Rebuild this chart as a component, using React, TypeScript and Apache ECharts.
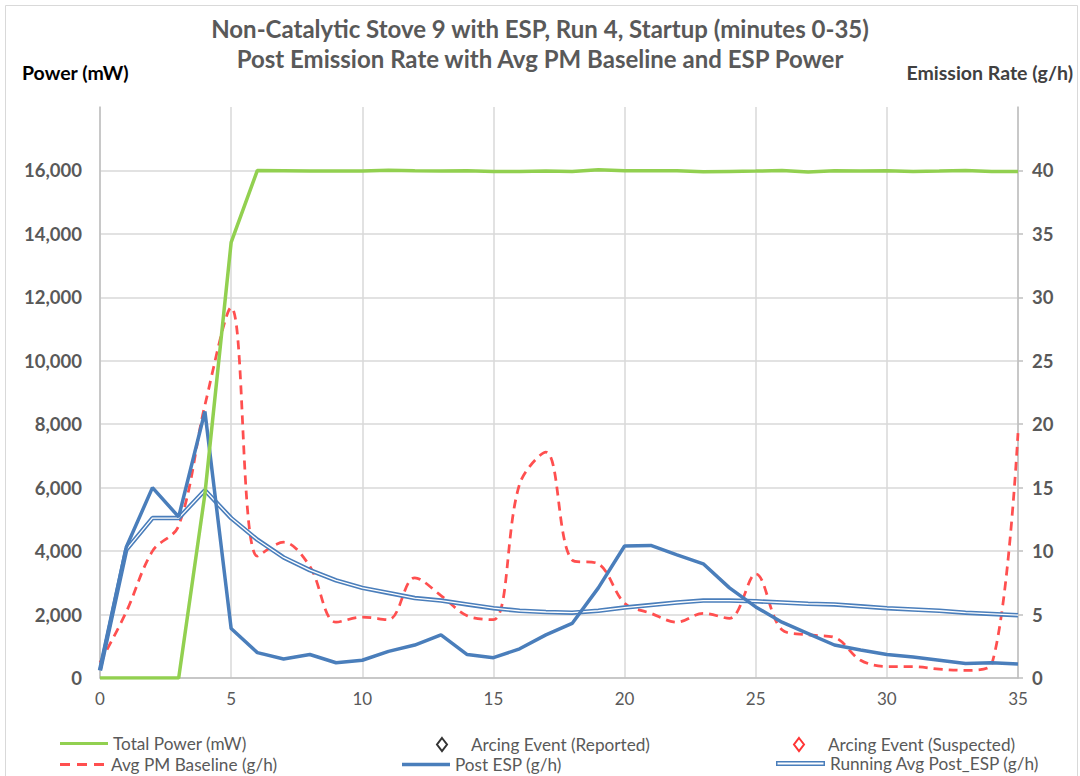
import React, { useEffect, useRef } from "react";
import * as echarts from "echarts";

const minutes = [0,1,2,3,4,5,6,7,8,9,10,11,12,13,14,15,16,17,18,19,20,21,22,23,24,25,26,27,28,29,30,31,32,33,34,35];
const totalPower = [0,0,0,0,5800,13730,16000,15990,15980,15980,15980,16010,15990,15980,15990,15970,15970,15980,15970,16020,15990,15990,15990,15960,15970,15980,16000,15950,15990,15980,15990,15970,15980,16000,15970,15970];
const avgPMBaseline = [1.2,5.2,10.0,12.0,21.5,29.2,9.6,10.7,8.8,4.4,4.8,4.6,7.9,6.5,4.9,4.6,15.3,17.8,9.3,9.0,5.9,5.1,4.4,5.1,4.7,8.2,3.8,3.4,3.2,1.4,0.9,0.9,0.7,0.6,1.1,19.3];
const postESP = [0.6,10.3,15.0,12.7,21.0,3.9,2.0,1.5,1.85,1.2,1.4,2.1,2.6,3.4,1.85,1.6,2.3,3.4,4.3,7.1,10.4,10.45,9.7,9.0,7.1,5.6,4.4,3.5,2.6,2.2,1.85,1.65,1.4,1.15,1.2,1.1];
const runningAvg = [0.6,10.1,12.6,12.6,14.8,12.6,10.9,9.5,8.5,7.7,7.1,6.7,6.3,6.1,5.8,5.5,5.3,5.2,5.15,5.3,5.55,5.75,5.95,6.1,6.1,6.05,5.95,5.85,5.8,5.65,5.5,5.4,5.3,5.15,5.05,4.95];

const titleLines = ["Non-Catalytic Stove 9 with ESP, Run 4, Startup (minutes 0-35)", "Post Emission Rate with Avg PM Baseline and ESP Power"];
const FONT = "Lato";

const pair = (vals: number[]) => minutes.map((m, i) => [m, vals[i]]);

export default function App() {
  const ref = useRef<HTMLDivElement>(null);
  useEffect(() => {
    const chart = echarts.init(ref.current!, undefined, { renderer: "svg" });
    const legendText = { fontSize: 17.2, color: "#595959", fontFamily: FONT };
    const mkLegend = (name: string, left: number, top: number, extra: any = {}, textExtra: any = {}) => ({
      show: true,
      data: [name],
      left,
      top,
      padding: 0,
      itemGap: 0,
      selectedMode: false,
      ...extra,
      textStyle: { ...legendText, ...textExtra },
    });
    const option: any = {
      animation: false,
      backgroundColor: "#ffffff",
      textStyle: { fontFamily: FONT },
      title: {
        text: titleLines.join("\n"),
        left: "center",
        top: 8,
        textStyle: { fontSize: 24, fontWeight: "bold", color: "#595959", lineHeight: 30, fontFamily: FONT },
      },
      grid: { left: 100, right: 62, top: 107, bottom: 98, containLabel: false },
      xAxis: {
        type: "value",
        min: 0,
        max: 35,
        interval: 5,
        axisLine: { show: true, lineStyle: { color: "#BFBFBF", width: 1.5 } },
        axisTick: { show: false },
        axisLabel: { fontSize: 17, color: "#595959", margin: 12, fontFamily: FONT },
        splitLine: { show: true, lineStyle: { color: "#D9D9D9", width: 1.5 } },
      },
      yAxis: [
        {
          type: "value",
          min: 0,
          max: 18000,
          interval: 2000,
          position: "left",
          axisLine: { show: true, lineStyle: { color: "#BFBFBF", width: 1.5 } },
          axisTick: { show: false },
          axisLabel: {
            fontSize: 18.5,
            fontWeight: "bold",
            color: "#595959",
            margin: 18,
            fontFamily: FONT,
            showMaxLabel: false,
            formatter: (v: number) => v.toLocaleString("en-US"),
          },
          splitLine: { show: true, showMaxLine: false, lineStyle: { color: "#D9D9D9", width: 1.5 } },
        },
        {
          type: "value",
          min: 0,
          max: 45,
          interval: 5,
          position: "right",
          axisLine: { show: true, lineStyle: { color: "#BFBFBF", width: 1.5 } },
          axisTick: { show: true, length: 5, lineStyle: { color: "#BFBFBF", width: 1.5 } },
          axisLabel: {
            fontSize: 18.5,
            fontWeight: "bold",
            color: "#595959",
            margin: 14,
            fontFamily: FONT,
            showMaxLabel: false,
          },
          splitLine: { show: false },
        },
      ],
      legend: [
        mkLegend("Total Power (mW)", 60, 735, { itemWidth: 48, itemHeight: 3, icon: "rect" }),
        mkLegend("Arcing Event (Reported)", 436, 736, { itemWidth: 10, itemHeight: 13, icon: "emptyDiamond" }, { padding: [0, 0, 0, 19] }),
        mkLegend("Arcing Event (Suspected)", 793, 736, { itemWidth: 10, itemHeight: 13, icon: "emptyDiamond" }, { padding: [0, 0, 0, 19] }),
        mkLegend("Avg PM Baseline (g/h)", 60, 756, { itemWidth: 48, itemHeight: 3, icon: "path://M0,0h10v3h-10z M17,0h10v3h-10z M34,0h10v3h-10z" }),
        mkLegend("Post ESP (g/h)", 402, 756, { itemWidth: 48, itemHeight: 3.5, icon: "rect" }),
        mkLegend("Running Avg Post_ESP (g/h)", 776, 755, { itemWidth: 49, itemHeight: 5, icon: "path://M0,0h50v5h-50z M1.5,1.5v2h47v-2z" }),
      ],
      series: [
        {
          name: "Avg PM Baseline (g/h)",
          type: "line",
          yAxisIndex: 1,
          data: pair(avgPMBaseline),
          smooth: 0.35,
          showSymbol: false,
          symbol: "none",
          lineStyle: { color: "#FF4F4F", width: 2.75, type: [9, 6] },
          itemStyle: { color: "#FF4F4F" },
          z: 3,
        },
        {
          name: "Running Avg Post_ESP (g/h)",
          type: "line",
          yAxisIndex: 1,
          data: pair(runningAvg),
          showSymbol: false,
          symbol: "none",
          lineStyle: { color: "#4A7EBB", width: 4.5 },
          itemStyle: { color: "#4A7EBB" },
          z: 4,
        },
        {
          name: "runningAvgInner",
          type: "line",
          yAxisIndex: 1,
          data: pair(runningAvg),
          showSymbol: false,
          symbol: "none",
          lineStyle: { color: "#ffffff", width: 1.3 },
          itemStyle: { color: "#ffffff" },
          z: 5,
        },
        {
          name: "Post ESP (g/h)",
          type: "line",
          yAxisIndex: 1,
          data: pair(postESP),
          showSymbol: false,
          symbol: "none",
          lineStyle: { color: "#4A7EBB", width: 3.5 },
          itemStyle: { color: "#4A7EBB" },
          z: 6,
        },
        {
          name: "Total Power (mW)",
          type: "line",
          yAxisIndex: 0,
          data: pair(totalPower),
          showSymbol: false,
          symbol: "none",
          lineStyle: { color: "#92D050", width: 3.5 },
          itemStyle: { color: "#92D050" },
          z: 7,
        },
        {
          name: "Arcing Event (Reported)",
          type: "scatter",
          yAxisIndex: 1,
          data: [],
          symbol: "emptyDiamond",
          itemStyle: { color: "#000000", borderWidth: 1.5 },
        },
        {
          name: "Arcing Event (Suspected)",
          type: "scatter",
          yAxisIndex: 1,
          data: [],
          symbol: "emptyDiamond",
          itemStyle: { color: "#FF0000", borderWidth: 1.5 },
        },
      ],
      graphic: [
        {
          type: "rect",
          shape: { x: 5.5, y: 5.5, width: 1072, height: 800 },
          style: { fill: "none", stroke: "#D9D9D9", lineWidth: 1 },
          silent: true,
        },
        {
          type: "text",
          left: 22,
          top: 62,
          style: { text: "Power (mW)", fontSize: 19.5, fontWeight: "bold", fill: "#000000", fontFamily: FONT },
        },
        {
          type: "text",
          right: 7,
          top: 62,
          style: { text: "Emission Rate (g/h)", fontSize: 19.5, fontWeight: "bold", fill: "#404040", fontFamily: FONT },
        },
      ],
    };
    chart.setOption(option);
    return () => chart.dispose();
  }, []);
  return <div ref={ref} style={{ position: "fixed", left: 0, top: 0, width: 1080, height: 776 }} />;
}
